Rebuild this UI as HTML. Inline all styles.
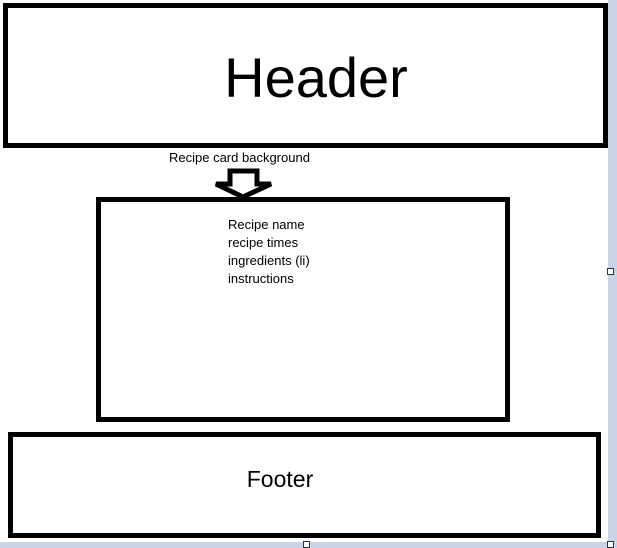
<!DOCTYPE html>
<html><head><meta charset="utf-8"><style>
html,body{margin:0;padding:0;width:617px;height:548px;overflow:hidden;background:#c9d5e6;font-family:"Liberation Sans",sans-serif}
#canvas{position:absolute;left:0;top:0;width:608px;height:542px;background:#fff}
.box{position:absolute;border:5px solid #000;box-sizing:border-box}
.t{position:absolute;color:#000;white-space:nowrap}
.h{position:absolute;width:5px;height:5px;border:1px solid #333;background:#fff}
</style></head><body>
<div id="canvas">
<div class="box" style="left:3px;top:3px;width:605px;height:145px"></div>
<div class="t" style="left:0;width:632px;text-align:center;top:46px;font-size:56px;line-height:64px">Header</div>
<div class="t" style="left:169px;top:150px;font-size:13px;line-height:16px">Recipe card background</div>
<svg style="position:absolute;left:0;top:0" width="608" height="542">
<polygon points="230,171 257,171 257,184 271,184 243,197 216,184 230,184" fill="#fff" stroke="#000" stroke-width="5" stroke-linejoin="miter"/>
</svg>
<div class="box" style="left:96px;top:197px;width:414px;height:225px"></div>
<div class="t" style="left:228px;top:216px;font-size:13px;line-height:18px">Recipe name<br>recipe times<br>ingredients (li)<br>instructions</div>
<div class="box" style="left:8px;top:432px;width:593px;height:106px"></div>
<div class="t" style="left:0;width:560px;text-align:center;top:465px;font-size:23px;line-height:28px">Footer</div>
</div>
<div class="h" style="left:607px;top:268px"></div>
<div class="h" style="left:303px;top:541px"></div>
<div class="h" style="left:607px;top:541px"></div>
</body></html>
